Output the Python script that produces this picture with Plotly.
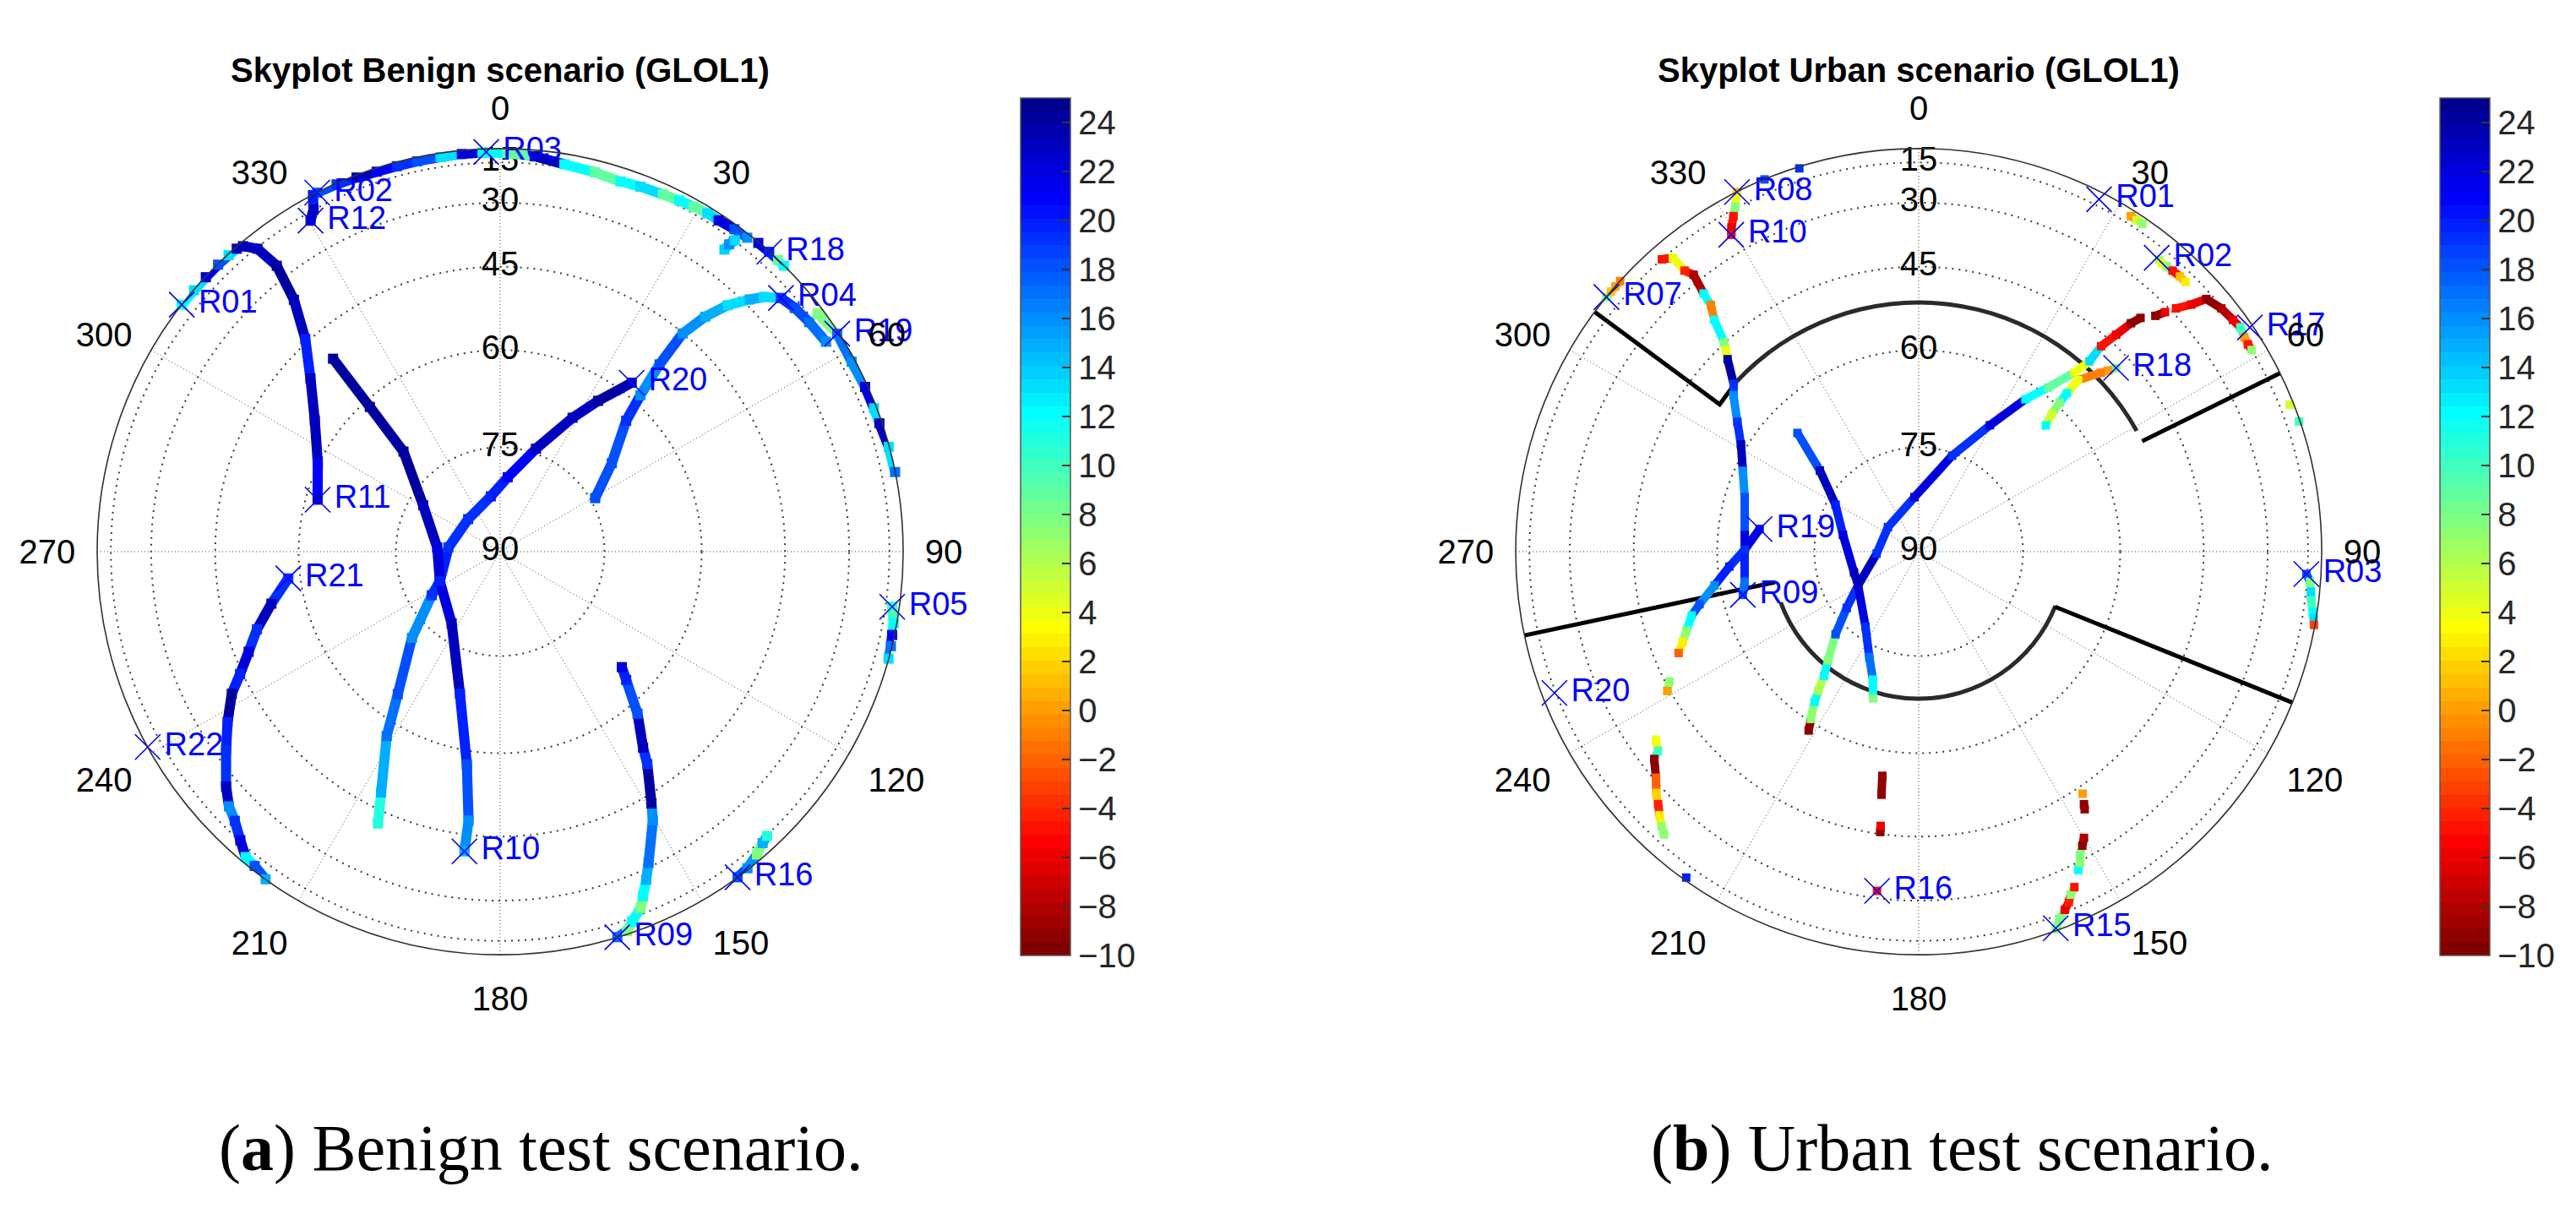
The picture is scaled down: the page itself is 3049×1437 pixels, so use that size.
import math
import plotly.graph_objects as go

# ------------------------------------------------------------------ data
ANGLE_TICKS = [0, 30, 60, 90, 120, 150, 180, 210, 240, 270, 300, 330]
ELEV_TICKS = [15, 30, 45, 60, 75, 90]
CBAR_TICKS = list(range(-10, 25, 2))
CMIN, CMAX = -10, 25

TITLE_B = "Skyplot Benign scenario (GLOL1)"
TITLE_U = "Skyplot Urban scenario (GLOL1)"
CAPTION_B = "(<b>a</b>) Benign test scenario."
CAPTION_U = "(<b>b</b>) Urban test scenario."

# ---- Benign scenario tracks: azimuth (deg), elevation (deg), value
B_R02_AZ = [333, 336, 339, 342, 345, 348, 351.4, 354.5, 357.5]
B_R02_EL = [1, 4, 6, 7.5, 8, 8, 8, 7.5, 7.5]
B_R02_VAL = [18, 19, 23, 21, 19, 18, 13, 22, 12]

B_R03_AZ = [357.5, 1, 5, 9.4, 14, 18, 21, 24.5, 27, 29.3, 31.5, 33.4, 36, 38.2]
B_R03_EL = [7.5, 8.5, 10, 13, 14, 15, 14, 13, 12, 11, 10, 10, 8.5, 7.5]
B_R03_VAL = [12, 9, 23, 12, 9, 12, 13, 9, 12, 9, 13, 22, 18, 16]

B_R18_AZ = [39.9, 41.9, 43.6, 44.8]
B_R18_EL = [3, 1.5, 1.5, 1]
B_R18_VAL = [22, 20, 9, 12]

B_SHORT_AZ = [36.6, 36.7, 37.0]
B_SHORT_EL = [21, 18, 14.6]
B_SHORT_VAL = [14, 16, 13]

B_R04_AZ = [60.6, 51.6, 43.9, 41.9, 40.4, 39.9, 41.1, 42.7, 44.7, 46.0, 47.9, 50.4, 53.4, 57.2]
B_R04_EL = [74.3, 69.3, 63.2, 58.6, 52.4, 45.1, 39.3, 33.7, 28.3, 24.5, 20.1, 18.4, 17.2, 15.9]
B_R04_VAL = [18, 18, 19, 16, 18, 16, 15, 13, 15, 13, 19, 18, 17, 16]

B_R19_AZ = [53.1, 57.1, 61.6, 65.7, 69.0, 71.3, 74.9, 78.6]
B_R19_EL = [10, 5, 7.5, 6.5, 6.5, 6.5, 3, 1.5]
B_R19_VAL = [8, 17, 16, 22, 13, 23, 13, 17]

B_R01_AZ = [307.8, 310.5, 313, 315.5, 317.5, 319]
B_R01_EL = [1, 2.5, 3, 3, 4, 5]
B_R01_VAL = [12, 13, 22, 18, 13, 23]

B_R11_AZ = [319.9, 321.3, 322, 320.7, 317.5, 312.4, 305.3, 295.9, 285.9]
B_R11_EL = [7.7, 15.6, 25.8, 36.1, 44.3, 50.4, 55.7, 59.8, 61.9]
B_R11_VAL = [23, 23, 24, 23, 20, 23, 23, 21, 23]

B_R10_AZ = [319.1, 318, 316, 301.1, 273.8, 243.8, 214.1, 195.8, 188.9, 186.7, 186.8]
B_R10_EL = [50.7, 61.1, 69.8, 77.1, 81, 80.4, 77.6, 68.5, 57.7, 47.8, 41.5]
B_R10_VAL = [24, 24, 24, 23, 22, 22, 23, 20, 18, 16, 15]

B_R20_AZ = [204.2, 206.3, 211.6, 215.7, 225.7, 237.5, 243.8, 274.7, 315.5, 350.4, 5.8, 19.2, 28.4, 33, 37.9]
B_R20_EL = [42.3, 48.2, 57.5, 64.2, 72.2, 78.4, 80.4, 82.6, 83.5, 82, 79.3, 74.3, 67.8, 63.5, 57.9]
B_R20_VAL = [11, 15, 17, 18, 16, 19, 20, 19, 19, 20, 21, 23, 23, 24, 23]

B_R21_AZ = [262.8, 257.2, 252.3, 248.3, 244.8, 242.1, 238, 234.1, 229.4, 226.8, 224.6, 222, 219.8, 218, 215.6]
B_R21_EL = [58, 54.4, 50.7, 47.8, 44.5, 41.1, 37.1, 32.9, 26.4, 22.6, 20.3, 15.5, 9.4, 8.3, 1]
B_R21_VAL = [19, 23, 19, 22, 20, 24, 20, 19, 23, 16, 19, 22, 12, 18, 15]

B_R05_AZ = [98, 100.3, 102, 103.6, 105.4]
B_R05_EL = [10.8, 7, 6, 4, 1.5]
B_R05_VAL = [10, 12, 21, 17, 13]

B_R16_AZ = [143.9, 142, 139.7, 138, 136.8]
B_R16_EL = [0.5, 4.5, 9.8, 13.3, 14.6]
B_R16_VAL = [18, 16, 8, 15, 11]

B_R09_AZ = [163.1, 161.5, 160.4, 158.5, 157.5, 156, 154.5, 150.4, 149, 145.3, 143.9, 139.7, 135.5, 133.5]
B_R09_EL = [0.5, 7, 12.9, 18, 22.2, 27, 31.2, 39.9, 43.2, 50.1, 53, 58.2, 63.5, 65.4]
B_R09_VAL = [17, 8, 12, 8, 12, 15, 17, 16, 24, 19, 23, 18, 20, 22]

B_R12_AZ = [332.3, 331.4, 330.2]
B_R12_EL = [2, 14.7, 18.8]
B_R12_VAL = [20, 23, 23]

B_LBL_NAME = ["R03", "R02", "R12", "R01", "R11", "R18", "R04", "R19", "R20",
              "R21", "R22", "R05", "R10", "R16", "R09"]
B_LBL_AZ = [358, 333, 330.2, 307.8, 285.9, 41.9, 47.9, 57.1, 37.9,
            262.8, 241, 98, 186.8, 143.9, 163.1]
B_LBL_EL = [7, 0.5, 18.8, 1, 61.9, 1, 20.1, 5, 57.9,
            58, 0.5, 10.8, 41.5, 0.5, 0.5]

# ---- Urban scenario tracks (None = gap in the track)
U_R08_AZ = [333.2, None, 337.5, None, 342.7]
U_R08_EL = [1, None, 1, None, 5]
U_R08_VAL = [1, None, 18, None, 19]

U_R10_AZ = [332.9, 332, 331.1, 330, 329.4]
U_R10_EL = [6.7, 14.2, 18, 21.7, 24]
U_R10_VAL = [4, 8, -5, -6, -5]

U_R07_AZ = [309.2, 310.2, 311.2, 312.2]
U_R07_EL = [1, 1, 1, 1]
U_R07_VAL = [8, 1, 0, -1]

U_R09_AZ = [318.7, 320.1, 320.2, 320.9, 320.2, 319.9, 318.6, 317.1, 316.3, 315.2, 312.2, 310.2,
            305.6, 301.1, 294.7, 287.4, 275.5, 270.1, 260.2, 256.2]
U_R09_EL = [15.1, 18.0, 24.8, 27.7, 33.5, 36.8, 39.9, 44.8, 46.2, 47.7, 51.7, 53,
            56.4, 59, 61.3, 63.1, 64.3, 64.4, 64, 63.3]
U_R09_VAL = [-5, 4, -4, -8, 12, -1, 12, 8, 4, 24, 19, 16,
             19, 23, 16, 18, 22, 20, 17, 18]

U_R19_AZ = [278.1, 270.6, 265.5, 260.6, 256.5, 254.3, 251.2, 249.1, 247.1, None, 242.5, 241]
U_R19_EL = [66.5, 64.4, 61.9, 59.1, 56, 54.2, 52.5, 51.2, 49.7, None, 45.8, 44.5]
U_R19_VAL = [22, 19, 20, 16, 18, 12, 7, 3, -2, None, 7, 0]

U_MID_AZ = [314.4, 309.4, 299.4, 282.6, 252.2, 241, 215.3, 205.1, 199.7, 197.3]
U_MID_EL = [65.1, 71.5, 76.3, 78.9, 80.3, 80.1, 76.8, 73.2, 70.3, 67.6]
U_MID_VAL = [18, 23, 20, 22, 23, 22, 19, 17, 12, 8]

U_R17_AZ = [211.6, 212.8, 214.7, 215.8, 217.3, 219.8, 225.2, 232, 241, 267.3, 308.6, 355.6,
            19.2, 29.4, 35, 38.2, 41, 41.9, 41.6, 42.3, 42.9, 43.5, None, 45.1, 45.8, None,
            46.6, 47.8, 48.7, 51.2, 53.6, 55.1, 56.6, 57.8, 58.8]
U_R17_EL = [58.6, 60.4, 63, 64.8, 67.2, 69.4, 73.1, 76.9, 80.1, 84, 84.4, 82.2,
            75.4, 68.9, 62.5, 58.8, 53.9, 50.6, 47, 43.3, 39.3, 36.9, None, 34, 31.5, None,
            28.5, 24.1, 18.2, 15.5, 14.3, 13.3, 14.6, 15.1, 15]
U_R17_VAL = [-9, 7, 12, 6, 12, 8, 18, 19, 23, 19, 19, 22,
             19, 22, 12, 9, 4, 13, -5, -6, -9, -9, None, -9, -6, None,
             -5, -6, -9, -8, -6, 10, 0, -5, 7]

U_R18_AZ = [47.05, 46.3, 45.5, 42.9, 43.1, 43.4, 44, 45.2]
U_R18_EL = [48, 49.4, 50.7, 54.5, 57.4, 59.4, 61.6, 63.6]
U_R18_VAL = [8, 0, -1, 4, 12, 8, 5, 12]

U_R01_AZ = [32.3, 33.3, 34.3]
U_R01_EL = [9.9, 10, 10]
U_R01_VAL = [0, 5, 7]

U_R02_AZ = [39.5, 40.1, 41, 42.1, 43.5, 44.7]
U_R02_EL = [20.2, 20.7, 20.3, 20, 19.7, 19.7]
U_R02_VAL = [6, 4, 7, -5, 1, 3]

U_EDGE_AZ = [68.4, None, 71.1]
U_EDGE_EL = [8, None, 4]
U_EDGE_VAL = [5, None, 10]

U_R03_AZ = [93.3, 94.4, 95.8, 97.1, 98.7, 99.6, 100.5]
U_R03_EL = [15.5, 13.1, 12, 11, 8.4, 6, 4]
U_R03_VAL = [18, 8, 13, 10, 12, 13, -3]

U_R15_AZ = [160, 159, 157.8, 156.8, 156.1, 155.1, None, 153.4, 152.6, 152, 150.9, 150, None,
            146.8, 147.2, None, 145.9]
U_R15_EL = [5, 12.5, 16.3, 18.9, 21.4, 23.4, None, 27.9, 29.6, 31.5, 33.4, 34.9, None,
            41.5, 40.5, None, 43.5]
U_R15_VAL = [8, 8, -6, -4, 7, -5, None, 12, 7, 8, -9, -8, None,
             -9, -9, None, 0]

U_R16_AZ = [187, None, 187.8, 187.9, None, 188.7, 189.2]
U_R16_EL = [32, None, 45.4, 46.6, None, 52.4, 55.7]
U_R16_VAL = [-5, None, -9, -6, None, -9, -9]

U_SW_AZ = [234.4, 232.6, 231.9, 229.3, 227.4, 225.9, 224.5, 223.1, 222, None, 215.5]
U_SW_EL = [36.7, 35.5, 33.5, 30.7, 27.8, 25.8, 23.5, 21, 19.2, None, 6.6]
U_SW_VAL = [4, 10, -9, -2, 2, -4, 3, 7, 7, None, 20]

U_LBL_NAME = ["R08", "R10", "R07", "R19", "R09", "R20", "R16", "R15",
              "R03", "R17", "R18", "R02", "R01"]
U_LBL_AZ = [333.2, 329.4, 309.2, 278.1, 256.2, 248.8, 187, 160,
            93.3, 55.9, 47.05, 39, 27.1]
U_LBL_EL = [1, 24, 1, 66.5, 63.3, 14.2, 32, 6,
            15.5, 7, 48, 20.2, 10.8]

# ---- Urban obstruction mask (black outline)
MASK_LINE_AZ = [[306.5, 306.5, 312.8], [63.7, 63.7], [258, 258], [112, 112]]
MASK_LINE_EL = [[0, 52.1, 51.8], [51.8, 0], [0, 68.6], [68.6, 0]]
MASK_ARC_FROM = [312.8, 111.6]
MASK_ARC_TO = [61, 249.8]
MASK_ARC_EL = [51.8, 68.6]

# ------------------------------------------------------------------ helpers
FONT = "Liberation Sans"
NLEV = 64


def cosd(e):
    return None if e is None else math.cos(math.radians(e))


def jet(x):
    r = min(max(1.5 - abs(4 * x - 3), 0), 1)
    g = min(max(1.5 - abs(4 * x - 2), 0), 1)
    b = min(max(1.5 - abs(4 * x - 1), 0), 1)
    return "rgb(%d,%d,%d)" % (round(r * 255), round(g * 255), round(b * 255))


LEVEL_COLORS = [jet((NLEV - k) / NLEV) for k in range(NLEV)]  # k=0 -> lowest value
COLORSCALE = []
for k, c in enumerate(LEVEL_COLORS):
    COLORSCALE.append([k / NLEV, c])
    COLORSCALE.append([(k + 1) / NLEV, c])


def level(v):
    k = int((v - CMIN) / (CMAX - CMIN) * NLEV)
    return max(0, min(NLEV - 1, k))


W, H = 3049, 1437
R_PX = 477
CY = 645


def polar_domain(cx):
    return dict(x=[(cx - R_PX) / W, (cx + R_PX) / W],
                y=[(H - CY - R_PX) / H, (H - CY + R_PX) / H])


def polar_layout(cx):
    return dict(
        domain=polar_domain(cx),
        bgcolor="white",
        radialaxis=dict(range=[0, 1], tickmode="array",
                        tickvals=[cosd(e) for e in ELEV_TICKS[:-1]],
                        showticklabels=False, ticks="", showline=False,
                        gridcolor="#3a3a3a", griddash="2px,6px", gridwidth=1.6),
        angularaxis=dict(rotation=90, direction="clockwise", tickmode="array",
                         tickvals=ANGLE_TICKS,
                         ticktext=[str(a) for a in ANGLE_TICKS],
                         showticklabels=True, ticks="outside", ticklen=17,
                         tickcolor="rgba(0,0,0,0)",
                         tickfont=dict(family=FONT, size=40, color="black"),
                         showline=True, linecolor="#333", linewidth=1.6,
                         gridcolor="#444", griddash="1px,3px", gridwidth=1.3),
    )


fig = go.Figure()


def add_radial_text(subplot):
    fig.add_trace(go.Scatterpolar(
        r=[cosd(e) for e in ELEV_TICKS], theta=[0] * len(ELEV_TICKS), mode="text",
        text=[str(e) for e in ELEV_TICKS], textposition="middle center",
        textfont=dict(family=FONT, size=40, color="black"),
        cliponaxis=False, hoverinfo="skip", showlegend=False, subplot=subplot))


def add_tracks(tracks, subplot, width, cbar_x):
    segs = {}
    mk_r, mk_t, mk_v = [], [], []
    for az, el, val in tracks:
        n = len(az)
        for i in range(n):
            if az[i] is None:
                continue
            mk_r.append(cosd(el[i]))
            mk_t.append(az[i])
            mk_v.append(val[i])
            if i + 1 < n and az[i + 1] is not None:
                k = level(val[i])
                rr, tt = segs.setdefault(k, ([], []))
                rr.extend([cosd(el[i]), cosd(el[i + 1]), None])
                tt.extend([az[i], az[i + 1], None])
    for k, (rr, tt) in sorted(segs.items()):
        fig.add_trace(go.Scatterpolar(
            r=rr, theta=tt, mode="lines",
            line=dict(color=LEVEL_COLORS[k], width=width),
            hoverinfo="skip", showlegend=False, subplot=subplot))
    fig.add_trace(go.Scatterpolar(
        r=mk_r, theta=mk_t, mode="markers",
        marker=dict(symbol="square", size=width, color=mk_v,
                    colorscale=COLORSCALE, cmin=CMIN, cmax=CMAX, showscale=True,
                    line=dict(width=0),
                    colorbar=dict(x=cbar_x / W, xanchor="left", xpad=0,
                                  y=(H - (108 + 1123) / 2) / H, yanchor="middle", ypad=0,
                                  len=(1123 - 108) / H, lenmode="fraction",
                                  thickness=59, thicknessmode="pixels",
                                  outlinewidth=1.5, outlinecolor="#555",
                                  ticks="inside", ticklen=10, tickwidth=1.5,
                                  tickcolor="#333", tickmode="array",
                                  tickvals=CBAR_TICKS,
                                  tickfont=dict(family=FONT, size=40, color="#262626"))),
        hoverinfo="skip", showlegend=False, subplot=subplot))


def add_labels(names, az, el, subplot):
    fig.add_trace(go.Scatterpolar(
        r=[cosd(e) for e in el], theta=az, mode="markers+text", text=names,
        textposition="middle right",
        textfont=dict(family=FONT, size=38, color="#0000ff"),
        marker=dict(symbol="x-thin", size=30, color="#0000ff",
                    line=dict(color="#0000ff", width=1.6)),
        cliponaxis=False, hoverinfo="skip", showlegend=False, subplot=subplot))


# ---------------- Benign (left)
add_radial_text("polar")
benign_tracks = [
    (B_R02_AZ, B_R02_EL, B_R02_VAL), (B_R03_AZ, B_R03_EL, B_R03_VAL),
    (B_R18_AZ, B_R18_EL, B_R18_VAL), (B_SHORT_AZ, B_SHORT_EL, B_SHORT_VAL),
    (B_R04_AZ, B_R04_EL, B_R04_VAL), (B_R19_AZ, B_R19_EL, B_R19_VAL),
    (B_R01_AZ, B_R01_EL, B_R01_VAL), (B_R11_AZ, B_R11_EL, B_R11_VAL),
    (B_R10_AZ, B_R10_EL, B_R10_VAL), (B_R20_AZ, B_R20_EL, B_R20_VAL),
    (B_R21_AZ, B_R21_EL, B_R21_VAL), (B_R05_AZ, B_R05_EL, B_R05_VAL),
    (B_R16_AZ, B_R16_EL, B_R16_VAL), (B_R09_AZ, B_R09_EL, B_R09_VAL),
    (B_R12_AZ, B_R12_EL, B_R12_VAL),
]
add_tracks(benign_tracks, "polar", 12, 1200)
add_labels(B_LBL_NAME, B_LBL_AZ, B_LBL_EL, "polar")

# ---------------- Urban (right)
add_radial_text("polar2")
ARC_T = 5.0 / R_PX
for a0, a1, e in zip(MASK_ARC_FROM, MASK_ARC_TO, MASK_ARC_EL):
    span = (a1 - a0) % 360
    fig.add_trace(go.Barpolar(
        r=[ARC_T], base=[cosd(e) - ARC_T / 2], theta=[a0 + span / 2], width=[span],
        marker=dict(color="#2a2a2a", line=dict(width=0)),
        hoverinfo="skip", showlegend=False, subplot="polar2"))
for az, el in zip(MASK_LINE_AZ, MASK_LINE_EL):
    fig.add_trace(go.Scatterpolar(
        r=[cosd(e) for e in el], theta=az, mode="lines",
        line=dict(color="black", width=5),
        hoverinfo="skip", showlegend=False, subplot="polar2"))

urban_tracks = [
    (U_R08_AZ, U_R08_EL, U_R08_VAL), (U_R10_AZ, U_R10_EL, U_R10_VAL),
    (U_R07_AZ, U_R07_EL, U_R07_VAL), (U_R09_AZ, U_R09_EL, U_R09_VAL),
    (U_R19_AZ, U_R19_EL, U_R19_VAL), (U_MID_AZ, U_MID_EL, U_MID_VAL),
    (U_R17_AZ, U_R17_EL, U_R17_VAL), (U_R18_AZ, U_R18_EL, U_R18_VAL),
    (U_R01_AZ, U_R01_EL, U_R01_VAL), (U_R02_AZ, U_R02_EL, U_R02_VAL),
    (U_EDGE_AZ, U_EDGE_EL, U_EDGE_VAL), (U_R03_AZ, U_R03_EL, U_R03_VAL),
    (U_R15_AZ, U_R15_EL, U_R15_VAL), (U_R16_AZ, U_R16_EL, U_R16_VAL),
    (U_SW_AZ, U_SW_EL, U_SW_VAL),
]
add_tracks(urban_tracks, "polar2", 10, 2880)
add_labels(U_LBL_NAME, U_LBL_AZ, U_LBL_EL, "polar2")

# ---------------- titles and captions
annotations = []
for cx, t in [(584, TITLE_B), (2263, TITLE_U)]:
    annotations.append(dict(x=cx / W, y=(H - 75) / H, xref="paper", yref="paper",
                            xanchor="center", yanchor="middle", showarrow=False,
                            text="<b>%s</b>" % t,
                            font=dict(family=FONT, size=40, color="black")))
for cx, t in [(632, CAPTION_B), (2314, CAPTION_U)]:
    annotations.append(dict(x=cx / W, y=(H - 1350) / H, xref="paper", yref="paper",
                            xanchor="center", yanchor="middle", showarrow=False,
                            text=t,
                            font=dict(family="Liberation Serif", size=78, color="black")))

fig.update_layout(
    width=W, height=H, autosize=False,
    margin=dict(l=0, r=0, t=0, b=0),
    paper_bgcolor="white", plot_bgcolor="white",
    polar=polar_layout(584), polar2=polar_layout(2263),
    annotations=annotations, showlegend=False,
)

fig.write_html("out.html", config={"displayModeBar": False})
